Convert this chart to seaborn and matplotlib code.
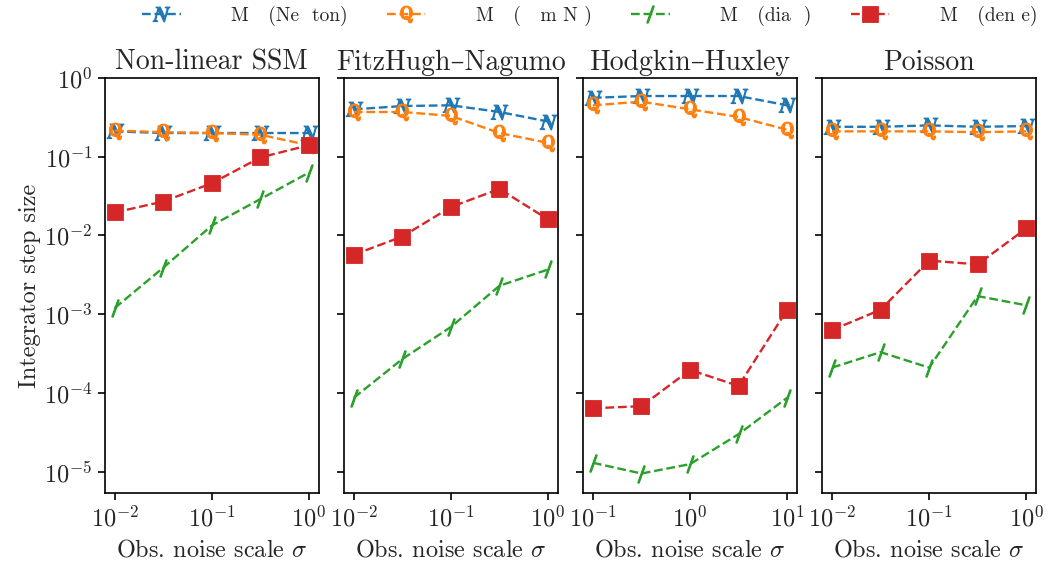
import numpy as np
import pandas as pd
import matplotlib
matplotlib.use("Agg")
import matplotlib.pyplot as plt
import seaborn as sns

# Panels and noise levels
panels = ["Non-linear SSM", "FitzHugh–Nagumo", "Hodgkin–Huxley", "Poisson"]
sigma_small = [0.01, 0.0316, 0.1, 0.316, 1.0]
sigma_hh = [0.1, 0.316, 1.0, 3.16, 10.0]
sigmas = [sigma_small, sigma_small, sigma_hh, sigma_small]

# Integrator step sizes per method, one list per panel
newton = [
    [0.21, 0.20, 0.20, 0.20, 0.20],
    [0.40, 0.44, 0.45, 0.37, 0.28],
    [0.56, 0.59, 0.59, 0.59, 0.45],
    [0.24, 0.24, 0.25, 0.24, 0.245],
]
gauss_newton = [
    [0.215, 0.205, 0.20, 0.19, 0.14],
    [0.37, 0.37, 0.33, 0.20, 0.15],
    [0.45, 0.50, 0.40, 0.32, 0.22],
    [0.21, 0.21, 0.21, 0.205, 0.21],
]
diagonal = [
    [0.0012, 0.0039, 0.0134, 0.029, 0.063],
    [8.7e-5, 2.7e-4, 6.9e-4, 0.0023, 0.0037],
    [1.3e-5, 9.5e-6, 1.25e-5, 3.0e-5, 8.7e-5],
    [2.1e-4, 3.3e-4, 2.1e-4, 0.0017, 0.0013],
]
dense = [
    [0.0196, 0.027, 0.046, 0.098, 0.14],
    [0.0057, 0.0097, 0.023, 0.039, 0.016],
    [6.4e-5, 6.8e-5, 1.96e-4, 1.23e-4, 0.00114],
    [6.3e-4, 0.00114, 0.0048, 0.0043, 0.0123],
]
x_ticks = [[1e-2, 1e-1, 1e0], [1e-2, 1e-1, 1e0], [1e-1, 1e0, 1e1], [1e-2, 1e-1, 1e0]]

labels = ["M   (Ne  ton)", "M   (   m N )", "M   (dia  )", "M   (den e)"]
series = [newton, gauss_newton, diagonal, dense]
colors = ["#1f77b4", "#ff7f0e", "#2ca02c", "#d62728"]
markers = [r"$\boldsymbol{N}$", r"$\mathbf{Q}$", r"$/$", "s"]
msizes = [12, 12, 12, 11]
medges = [0.8, 0.8, 1.4, 0.6]

sns.set_style("white")
plt.rcParams["font.family"] = ["cmr10", "DejaVu Serif"]
plt.rcParams["mathtext.fontset"] = "cm"
plt.rcParams["axes.formatter.use_mathtext"] = True
plt.rcParams["axes.linewidth"] = 1.2
plt.rcParams["axes.edgecolor"] = "black"

fig, axes = plt.subplots(1, 4, figsize=(10.49, 5.63), dpi=100, sharey=True)
fig.subplots_adjust(left=0.1001, right=0.9876, top=0.8615, bottom=0.1243, wspace=0.119)

for p, ax in enumerate(axes):
    for k in range(4):
        df = pd.DataFrame({"sigma": sigmas[p], "step": series[k][p]})
        sns.lineplot(data=df, x="sigma", y="step", ax=ax, color=colors[k],
                     marker=markers[k], markersize=msizes[k], linestyle="--",
                     linewidth=1.7, markeredgewidth=medges[k],
                     markeredgecolor=colors[k], markerfacecolor=colors[k],
                     label=labels[k] if p == 0 else None, legend=False)
    ax.set_xscale("log")
    ax.set_yscale("log")
    ax.set_ylim(10 ** -5.27, 1.0)
    ax.set_xticks(x_ticks[p])
    ax.minorticks_off()
    ax.set_title(panels[p], fontsize=20, pad=6)
    ax.set_xlabel(r"Obs. noise scale $\sigma$", fontsize=17.5, labelpad=6)
    ax.set_ylabel("")
    ax.tick_params(axis="both", which="major", labelsize=17.5, direction="out",
                   length=5, width=1.2, color="black", left=True, bottom=True, pad=4)
    for s in ax.spines.values():
        s.set_color("black")

axes[0].set_ylabel("Integrator step size", fontsize=17.5, labelpad=2)
axes[0].set_yticks([1e0, 1e-1, 1e-2, 1e-3, 1e-4, 1e-5])
axes[0].minorticks_off()

handles, lbls = axes[0].get_legend_handles_labels()
fig.legend(handles, lbls, loc="upper center", bbox_to_anchor=(0.562, 1.02), ncol=4,
           frameon=False, fontsize=14, handlelength=2.0, handletextpad=2.6,
           columnspacing=2.0)

fig.savefig("out.png", dpi=100)
